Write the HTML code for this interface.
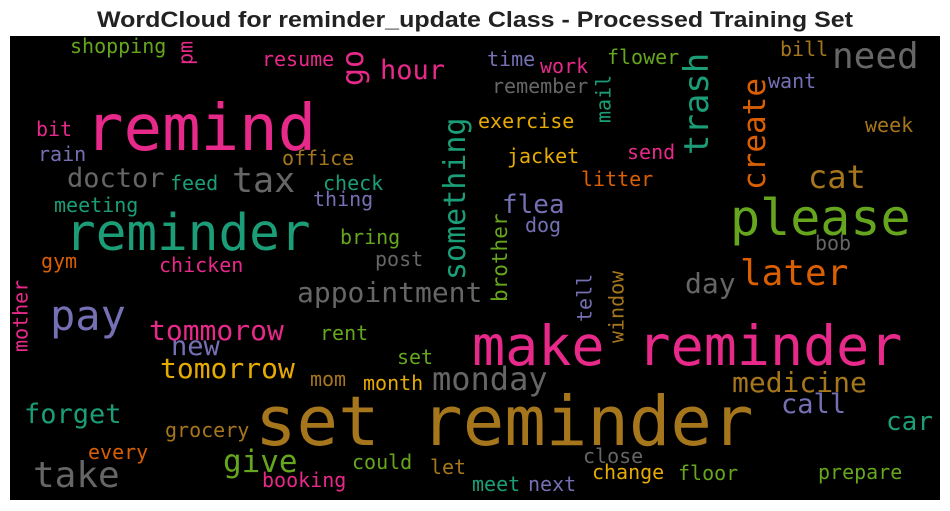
<!DOCTYPE html>
<html><head><meta charset="utf-8"><style>
html,body{margin:0;padding:0;background:#fff;width:950px;height:511px;overflow:hidden}
svg{display:block}
</style></head><body>
<svg id="chart" width="950" height="511" xmlns="http://www.w3.org/2000/svg">
<text x="475" y="27" text-anchor="middle" font-family="Liberation Sans, sans-serif" font-weight="bold" font-size="22" fill="#222" textLength="756" lengthAdjust="spacingAndGlyphs">WordCloud for reminder_update Class - Processed Training Set</text>
<rect x="10" y="36" width="930" height="464" fill="#000"/>
<g id="words" font-family="DejaVu Sans Mono, Liberation Mono, monospace"></g>
</svg>
<script>
// word, font size, colour key, left x, baseline y, orientation (0 horizontal, 1 vertical bottom-to-top)
const words = ["remind","reminder","set reminder","make reminder","please","pay","take","tax","doctor","need","cat","later","day","appointment","monday","medicine","call","car","forget","give","tomorrow","tommorow","new","hour","shopping","resume","bit","rain","office","feed","check","thing","meeting","bring","gym","chicken","post","time","work","flower","remember","exercise","jacket","send","litter","flea","dog","bill","want","week","bob","rent","set","mom","month","grocery","every","could","let","booking","close","change","floor","meet","next","prepare","go","pm","something","trash","create","mail","brother","tell","window","mother"];
const sizes = [64,51,69,55,50,42,36,35,27,36,32,36,28,28,32,28,27,26,27,31,28,28,27,27,20,20,20,20,20,20,20,20,20,20,20,20,20,20,20,20,20,20,20,20,20,26,20,20,20,20,20,20,20,20,20,20,20,20,20,20,20,20,20,20,20,20,30,20,30,34,31,20,21,20,20,20];
const colors = ["pink","teal","brown","pink","green","purple","gray","gray","gray","gray","brown","orange","gray","gray","gray","brown","purple","teal","teal","green","yellow","pink","purple","pink","green","pink","pink","purple","brown","teal","teal","purple","teal","green","orange","pink","gray","purple","pink","green","gray","yellow","yellow","pink","orange","purple","purple","brown","purple","brown","gray","green","green","brown","yellow","brown","orange","green","brown","pink","gray","yellow","green","teal","purple","green","pink","pink","teal","teal","orange","teal","green","purple","brown","pink"];
const xs = [85,65,255,472,730,50,33,232,67,832,808,740,685,297,432,732,781,886,24,223,160,149,171,380,70,262,36,38,282,170,323,313,54,340,41,159,375,487,540,607,492,478,507,627,581,502,525,780,768,865,815,320,397,310,363,165,88,352,430,262,583,592,678,472,528,818,370,197,472,716,772,615,512,596,628,32];
const ys = [150,250,445,365,235,330,487,192,187,68,188,285,293,302,390,392,413,430,423,472,378,340,355,79,53,66,136,161,165,190,190,206,212,244,268,272,266,66,73,64,93,128,163,159,186,213,232,56,88,132,250,340,364,386,390,437,459,469,474,487,463,479,480,491,491,479,86,65,280,155,190,123,302,322,343,352];
const orient = [0,0,0,0,0,0,0,0,0,0,0,0,0,0,0,0,0,0,0,0,0,0,0,0,0,0,0,0,0,0,0,0,0,0,0,0,0,0,0,0,0,0,0,0,0,0,0,0,0,0,0,0,0,0,0,0,0,0,0,0,0,0,0,0,0,0,1,1,1,1,1,1,1,1,1,1];
const palette = {teal:"#1b9e77",orange:"#d95f02",purple:"#7570b3",pink:"#e7298a",green:"#66a61e",yellow:"#e6ab02",brown:"#a6761d",gray:"#666666"};
const g = document.getElementById('words');
const NS = "http://www.w3.org/2000/svg";
words.forEach((w,i)=>{
  const t = document.createElementNS(NS,'text');
  
  
  t.setAttribute('font-size', sizes[i]);
  t.setAttribute('fill', palette[colors[i]]);
  t.textContent = w;
  if (orient[i]) {
    const bx = xs[i] - 0.23*sizes[i];
    t.setAttribute('transform', `translate(${bx},${ys[i]}) rotate(-90)`);
    t.setAttribute('x', 0); t.setAttribute('y', 0);
  } else {
    t.setAttribute('x', xs[i]); t.setAttribute('y', ys[i]);
  }
  t.setAttribute('textLength', (w.length*0.602*sizes[i]).toFixed(1));
  g.appendChild(t);
});
</script>
</body></html>
